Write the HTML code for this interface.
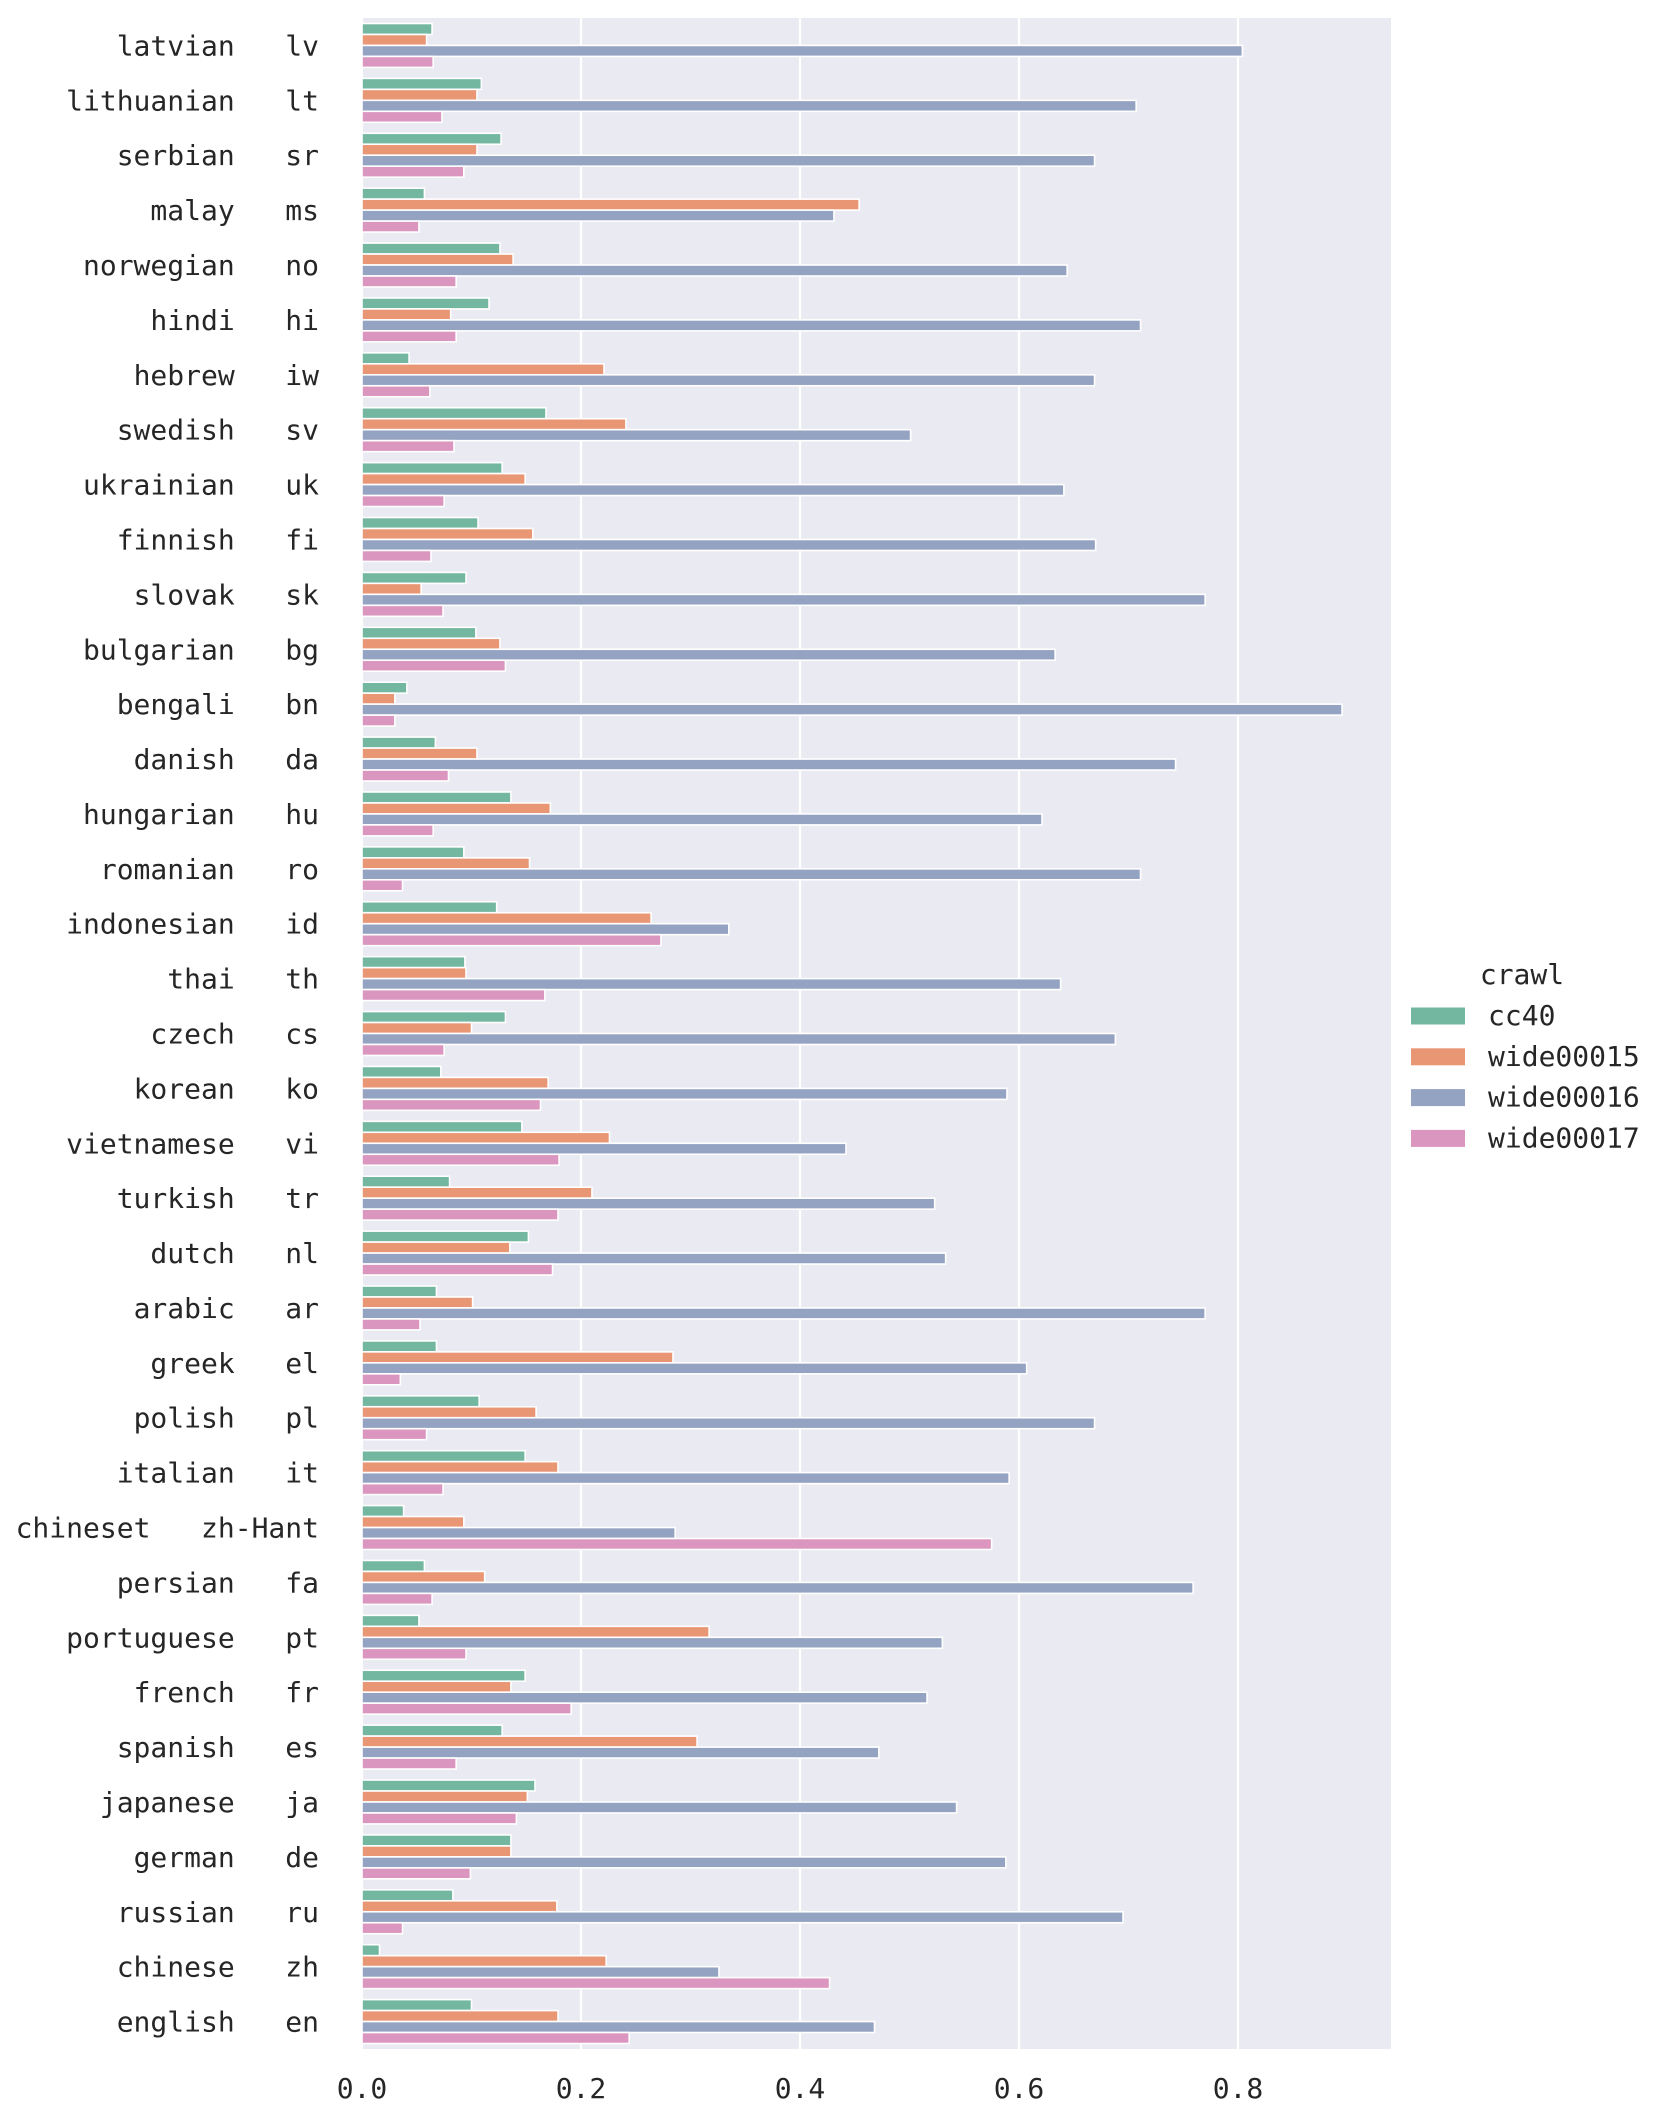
<!DOCTYPE html>
<html><head><meta charset="utf-8"><style>
html,body{margin:0;padding:0;background:#fff}
svg text{font-family:"DejaVu Sans Mono","Liberation Mono",monospace;fill:#262626}
</style></head><body>
<svg id="chart" width="1660" height="2112" xmlns="http://www.w3.org/2000/svg">
<rect x="361" y="18" width="1030" height="2031" fill="#eaeaf2"/>
<g id="grid"></g><g id="bars"></g><g id="ylabels"></g><g id="xticks"></g>
<g id="legend">
<text x="1522" y="984" font-size="28" text-anchor="middle">crawl</text>
</g>
</svg>
<script>
const categories=["latvian   lv","lithuanian   lt","serbian   sr","malay   ms","norwegian   no","hindi   hi","hebrew   iw","swedish   sv","ukrainian   uk","finnish   fi","slovak   sk","bulgarian   bg","bengali   bn","danish   da","hungarian   hu","romanian   ro","indonesian   id","thai   th","czech   cs","korean   ko","vietnamese   vi","turkish   tr","dutch   nl","arabic   ar","greek   el","polish   pl","italian   it","chineset   zh-Hant","persian   fa","portuguese   pt","french   fr","spanish   es","japanese   ja","german   de","russian   ru","chinese   zh","english   en"];
const seriesNames=["cc40","wide00015","wide00016","wide00017"];
const cc40=[.064,.109,.127,.057,.126,.116,.043,.168,.128,.106,.095,.104,.041,.067,.136,.093,.123,.094,.131,.072,.146,.080,.152,.068,.068,.107,.149,.038,.057,.052,.149,.128,.158,.136,.083,.016,.100];
const wide00015=[.059,.105,.105,.454,.138,.081,.221,.241,.149,.156,.054,.126,.030,.105,.172,.153,.264,.095,.100,.170,.226,.210,.135,.101,.284,.159,.179,.093,.112,.317,.136,.306,.151,.136,.178,.223,.179];
const wide00016=[.804,.707,.669,.431,.644,.711,.669,.501,.641,.670,.770,.633,.895,.743,.621,.711,.335,.638,.688,.589,.442,.523,.533,.770,.607,.669,.591,.286,.759,.530,.516,.472,.543,.588,.695,.326,.468];
const wide00017=[.065,.073,.093,.052,.086,.086,.062,.084,.075,.063,.074,.131,.030,.079,.065,.037,.273,.167,.075,.163,.180,.179,.174,.053,.035,.059,.074,.575,.064,.095,.191,.086,.141,.099,.037,.427,.244];
const xTicks=[0,0.2,0.4,0.6,0.8];
const xTickLabels=["0.0","0.2","0.4","0.6","0.8"];
const colors=["#73b7a1","#e99675","#95a3c3","#db96c0"];
const NS="http://www.w3.org/2000/svg";
const L=362,T=18,B=2049,U=1095;
const x=v=>L+v*U;
const band=(B-T)/categories.length;
const bw=band*0.8/4;
const yc=i=>T+(i+0.5)*band;
function mk(t,a,p){const e=document.createElementNS(NS,t);for(const k in a)e.setAttribute(k,a[k]);p.appendChild(e);return e;}
const grid=document.getElementById('grid'),bars=document.getElementById('bars'),yl=document.getElementById('ylabels'),xt=document.getElementById('xticks'),lg=document.getElementById('legend');
xTicks.forEach((v,i)=>{
 const g=mk('line',{x1:x(v),x2:x(v),y1:T,y2:B,stroke:'#fff','stroke-width':2.2},grid);
 
 
 const t=mk('text',{x:x(v),y:2098,'font-size':28,'text-anchor':'middle'},xt);
 t.textContent=xTickLabels[i];
 
 
});
const series=[cc40,wide00015,wide00016,wide00017];
categories.forEach((c,i)=>{
 series.forEach((s,j)=>{
  const r=mk('rect',{x:x(0),y:yc(i)-0.4*band+j*bw,width:Math.max(0,x(s[i])-x(0)),height:bw,fill:colors[j],stroke:'#fff','stroke-width':1.6},bars);
  
  
 });
 const t=mk('text',{x:319,y:yc(i)+10,'font-size':28,'text-anchor':'end'},yl);
 t.style.whiteSpace='pre';
 t.textContent=c;
 
 
});
seriesNames.forEach((n,j)=>{
 const cy=1016+j*40.8;
 const r=mk('rect',{x:1411,y:cy-8.5,width:54,height:17,fill:colors[j]},lg);
 
 
 const t=mk('text',{x:1488,y:cy+9,'font-size':28},lg);
 t.textContent=n;
 
 
});
</script>
</body></html>
